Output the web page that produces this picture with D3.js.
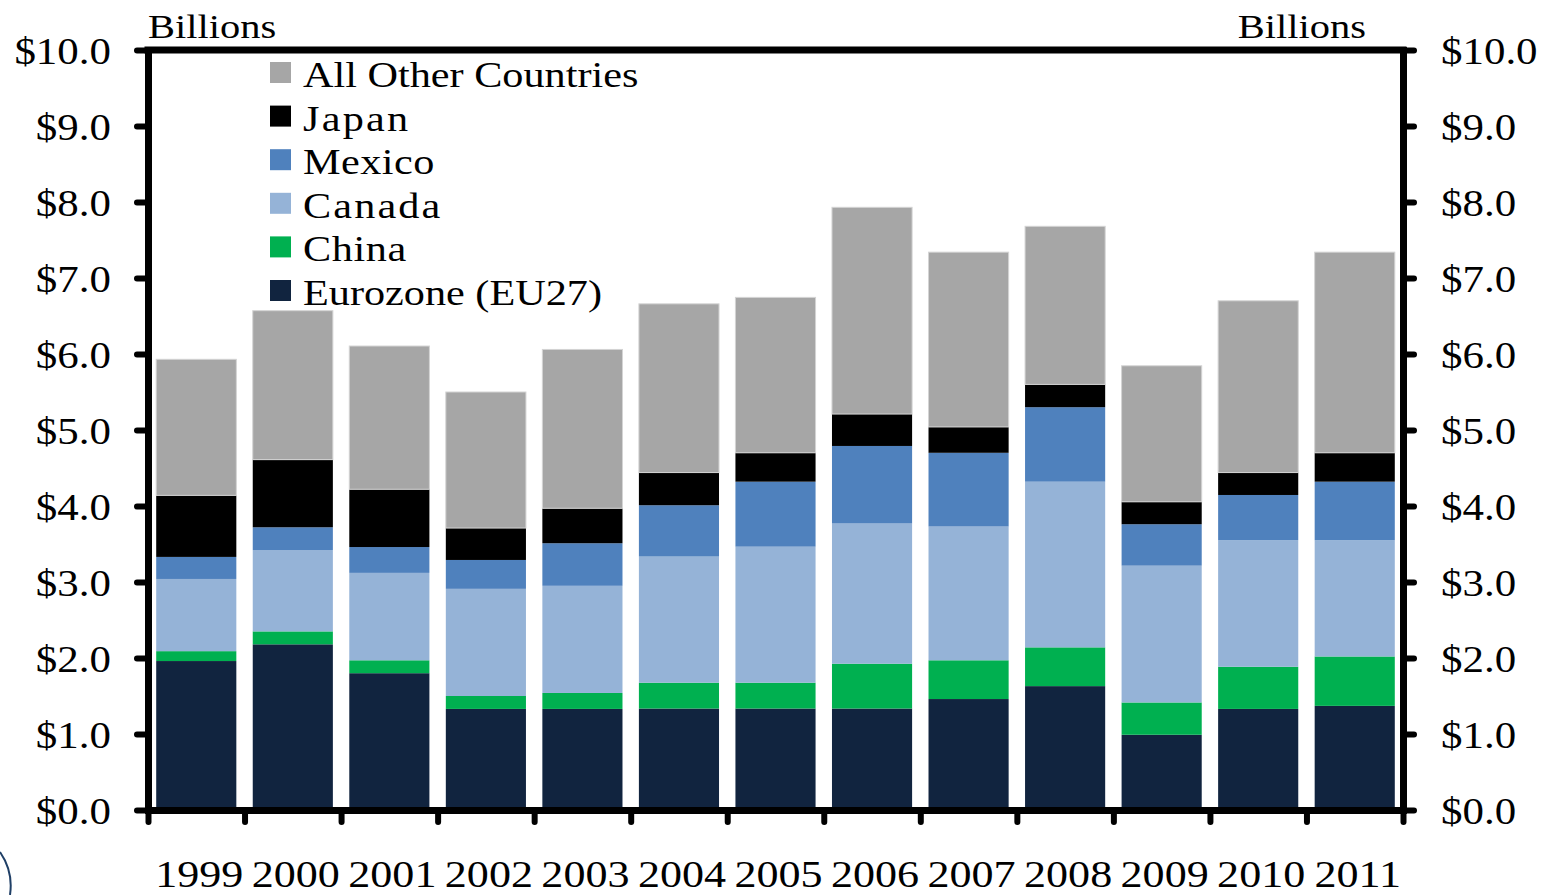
<!DOCTYPE html>
<html><head><meta charset="utf-8">
<script src="https://cdn.jsdelivr.net/npm/d3@7"></script>
<style>
html,body{margin:0;padding:0;background:#fff;}
svg{display:block;}
text{font-family:"Liberation Serif","Times New Roman",serif;fill:#000;}
</style></head>
<body>
<svg id="chart" width="1550" height="895"></svg>
<script>
const years = ["1999","2000","2001","2002","2003","2004","2005","2006","2007","2008","2009","2010","2011"];
const eurozone = [1.96,2.18,1.80,1.33,1.33,1.335,1.335,1.335,1.46,1.63,0.99,1.33,1.37];
const china    = [0.13,0.17,0.17,0.17,0.21,0.34,0.34,0.59,0.51,0.51,0.425,0.555,0.65];
const canada   = [0.95,1.07,1.15,1.41,1.41,1.66,1.79,1.845,1.76,2.18,1.80,1.665,1.53];
const mexico   = [0.29,0.30,0.34,0.38,0.56,0.675,0.855,1.02,0.97,0.98,0.545,0.595,0.77];
const japan    = [0.81,0.89,0.76,0.42,0.46,0.43,0.38,0.42,0.34,0.30,0.295,0.295,0.38];
const other    = [1.79,1.96,1.885,1.79,2.09,2.22,2.045,2.72,2.30,2.08,1.79,2.26,2.64];
const yTicks   = [0,1,2,3,4,5,6,7,8,9,10];

const seriesNames  = ["Eurozone (EU27)","China","Canada","Mexico","Japan","All Other Countries"];
const seriesValues = [eurozone,china,canada,mexico,japan,other];
const colors = ["#11243f","#00b050","#95b3d7","#4f81bd","#000000","#a6a6a6"];

const SX = 1.19; // horizontal text stretch of the reference
const svg = d3.select("#chart");
const mLeft = 148, mRight = 1403, mTop = 50, mBottom = 810;

const rows = years.map((yr,i)=>{ const r={year:yr}; seriesNames.forEach((n,k)=>r[n]=seriesValues[k][i]); return r; });
const stack = d3.stack().keys(seriesNames)(rows);

const x = d3.scaleBand().domain(years).range([mLeft,mRight]).paddingInner(0.17).paddingOuter(0.085);
const y = d3.scaleLinear().domain([0,10]).range([mBottom,mTop]);
const xb = d3.scaleLinear().domain([0,years.length]).range([mLeft,mRight]);

// bars
const g = svg.append("g");
stack.forEach((s,k)=>{
  g.append("g").attr("fill",colors[k])
   .selectAll("rect").data(s).join("rect")
   .attr("x",d=>x(d.data.year))
   .attr("width",x.bandwidth())
   .attr("y",d=>y(d[1]))
   .attr("height",d=>y(d[0])-y(d[1]))
   .attr("stroke", k===5 ? "#d4d4d4" : "none")
   .attr("stroke-width",1);
});

function styleAxis(ax){
  ax.selectAll(".domain").attr("stroke","#000").attr("stroke-width",7).attr("stroke-linecap","square");
  ax.selectAll(".tick line").attr("stroke","#000").attr("stroke-width",6).attr("stroke-linecap","round");
}

// top border
svg.append("line").attr("x1",mLeft).attr("x2",mRight).attr("y1",mTop).attr("y2",mTop)
  .attr("stroke","#000").attr("stroke-width",7).attr("stroke-linecap","square");

// left axis
const axL = svg.append("g").attr("transform",`translate(${mLeft},0)`)
  .call(d3.axisLeft(y).tickValues(yTicks).tickSize(11).tickSizeOuter(0).tickFormat(d=>"$"+d.toFixed(1)));
styleAxis(axL);
axL.selectAll(".tick text").attr("x",0).attr("dy",null)
  .attr("transform",`translate(-37,13) scale(1.13,1)`)
  .attr("text-anchor","end").attr("font-size",38).attr("font-family","Liberation Serif").attr("fill","#000");

// right axis
const axR = svg.append("g").attr("transform",`translate(${mRight},0)`)
  .call(d3.axisRight(y).tickValues(yTicks).tickSize(11).tickSizeOuter(0).tickFormat(d=>"$"+d.toFixed(1)));
styleAxis(axR);
axR.selectAll(".tick text").attr("x",0).attr("dy",null)
  .attr("transform",`translate(38,13) scale(1.13,1)`)
  .attr("text-anchor","start").attr("font-size",38).attr("font-family","Liberation Serif").attr("fill","#000");

// bottom axis (boundary ticks)
const axB = svg.append("g").attr("transform",`translate(0,${mBottom})`)
  .call(d3.axisBottom(xb).tickValues(d3.range(years.length+1)).tickSize(12).tickSizeOuter(0).tickFormat(""));
styleAxis(axB);

// year labels
const axY = svg.append("g").attr("transform",`translate(0,${mBottom})`)
  .call(d3.axisBottom(x).tickSize(0));
axY.select(".domain").remove();
axY.selectAll(".tick text").attr("y",null).attr("dy",null)
  .attr("transform",`translate(3,77) scale(1.16,1)`)
  .attr("font-size",38).attr("font-family","Liberation Serif").attr("fill","#000");

// Billions labels
svg.append("text").attr("transform",`translate(148,38) scale(${SX},1)`).attr("font-size",34).text("Billions");
svg.append("text").attr("transform",`translate(1366,38) scale(${SX},1)`).attr("text-anchor","end").attr("font-size",34).text("Billions");

// legend
const legendOrder = [5,4,3,2,1,0];
const spacing = [0,0.5,1.8,0.4,1.9,0];
const lg = svg.append("g");
legendOrder.forEach((k,i)=>{
  const yy = 62 + i*43.6;
  lg.append("rect").attr("x",270).attr("y",yy).attr("width",21).attr("height",21).attr("fill",colors[k]);
  lg.append("text").attr("transform",`translate(303,${yy+25}) scale(${SX},1)`)
    .attr("font-size",35.5).attr("letter-spacing",spacing[k]).text(seriesNames[k]);
});

// logo fragment at bottom-left
svg.append("path").attr("d","M 0 852 A 60 60 0 0 1 10 895").attr("fill","none").attr("stroke","#1f3f66").attr("stroke-width",2);
</script>
</body></html>
